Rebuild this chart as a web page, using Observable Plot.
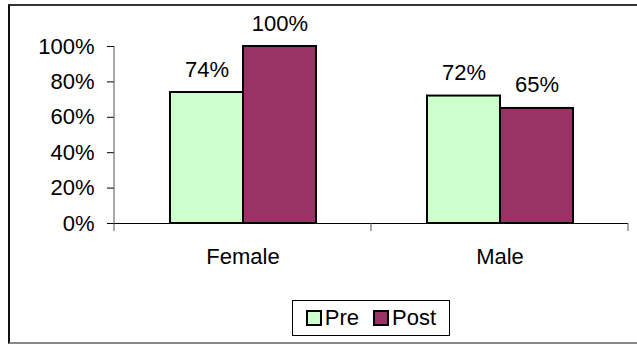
<!DOCTYPE html>
<html>
<head>
<meta charset="utf-8">
<script src="https://cdn.jsdelivr.net/npm/d3@7"></script>
<script src="https://cdn.jsdelivr.net/npm/@observablehq/plot@0.6"></script>
<style>
  html, body { margin: 0; padding: 0; background: #fff; }
  body { width: 637px; height: 344px; position: relative; overflow: hidden;
         font-family: "Liberation Sans", Arial, sans-serif; }
  #border { position: absolute; left: 8px; top: 4px; width: 640px; height: 336px;
            border-left: 2px solid #111; border-top: 2px solid #333; border-bottom: 2px solid #888; }
  #chart { position: absolute; left: 0; top: 0; }
  #legend { position: absolute; left: 292px; top: 300px; width: 158px; height: 36px;
            border: 1px solid #000; display: flex; align-items: center; justify-content: center;
            gap: 14px; font-size: 22px; color: #000; box-sizing: border-box; background: #fff; }
  #legend .item { display: flex; align-items: center; gap: 3px; }
  #legend .sw { width: 12px; height: 12px; border: 2px solid #000; }
</style>
</head>
<body>
<div id="border"></div>
<div id="chart"></div>
<div id="legend"></div>
<script>
// Share of respondents, before and after
const categories = ["Female", "Male"];
const series = ["Pre", "Post"];
const preValues = [74, 72];
const postValues = [100, 65];
const yTicks = [0, 20, 40, 60, 80, 100];
const seriesColors = ["#CCFFCC", "#993366"];

const rows = categories.flatMap((c, i) => [
  {category: c, series: "Pre", value: preValues[i]},
  {category: c, series: "Post", value: postValues[i]}
]);

const fontSize = 22;

const chart = Plot.plot({
  width: 637,
  height: 290,
  marginLeft: 114,
  marginRight: 9,
  marginTop: 46,
  marginBottom: 67,
  style: {fontFamily: "'Liberation Sans', Arial, sans-serif", fontSize: fontSize + "px", color: "#000", background: "transparent", overflow: "visible"},
  fx: {domain: categories, padding: 0, label: null},
  x: {domain: series, paddingInner: 0, paddingOuter: 0.75, axis: null},
  y: {domain: [0, 100], label: null},
  color: {domain: series, range: seriesColors},
  marks: [
    Plot.axisY(yTicks, {tickSize: 7, tickPadding: 13, tickFormat: d => d + "%", label: null, stroke: "#000"}),
    Plot.barY(rows, {fx: "category", x: "series", y: "value", fill: "series", stroke: "#000", strokeWidth: 2}),
    Plot.text(rows, {fx: "category", x: "series", y: "value", text: d => d.value + "%", lineAnchor: "bottom", dy: -16, fill: "#000"}),
    Plot.ruleY([0], {stroke: "#000", strokeWidth: 1.2}),
    Plot.axisFx({anchor: "bottom", tickSize: 0, tickPadding: 25, label: null})
  ]
});

// Axis line along the left edge and category boundary ticks under the baseline
const fx = chart.scale("fx");
const y = chart.scale("y");
const svg = d3.select(chart);
const g = svg.append("g").attr("stroke", "#000");
const x0 = fx.apply(categories[0]);
g.append("line")
  .attr("x1", x0).attr("x2", x0)
  .attr("y1", y.apply(100)).attr("y2", y.apply(0))
  .attr("stroke", "#555");
const edges = categories.map(c => fx.apply(c)).concat([fx.apply(categories[categories.length - 1]) + fx.bandwidth]);
for (const e of edges) {
  g.append("line")
    .attr("x1", e).attr("x2", e)
    .attr("y1", y.apply(0)).attr("y2", y.apply(0) + 8)
    .attr("stroke", "#555");
}
document.getElementById("chart").append(chart);

// Legend
const legend = d3.select("#legend");
series.forEach((s, i) => {
  const item = legend.append("div").attr("class", "item");
  item.append("div").attr("class", "sw").style("background", seriesColors[i]);
  item.append("span").text(s);
});
</script>
</body>
</html>
